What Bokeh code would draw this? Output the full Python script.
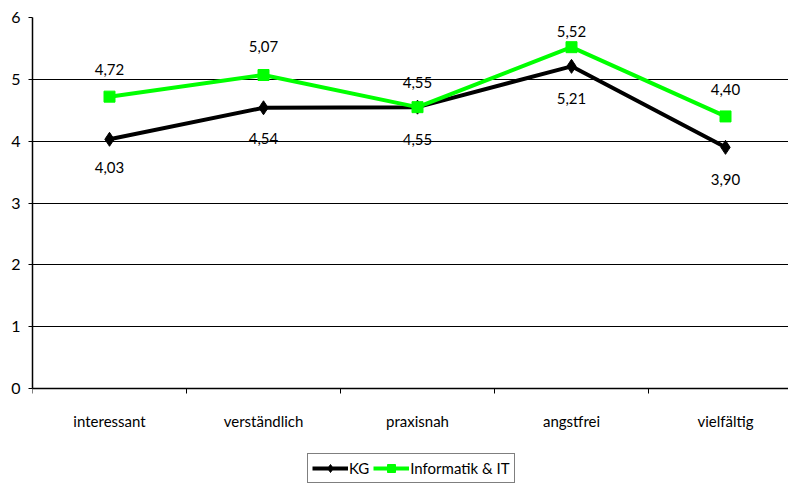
from bokeh.plotting import figure
from bokeh.models import Range1d, FixedTicker, Legend, LegendItem, ColumnDataSource, Span
from bokeh.core.properties import value
from bokeh.embed import file_html
from bokeh.resources import INLINE

categories = ["interessant", "verständlich", "praxisnah", "angstfrei", "vielfältig"]
kg = [4.03, 4.54, 4.55, 5.21, 3.90]
informatik_it = [4.72, 5.07, 4.55, 5.52, 4.40]
y_ticks = [0, 1, 2, 3, 4, 5, 6]
series_names = ["KG", "Informatik & IT"]

# vertical pixel offsets of the value labels (negative = above the point)
kg_label_dy = [28, 31, 32, 32, 32]
it_label_dy = [-27, -29, -25, -16, -27]

FONT = "Lato"
GREEN = "#00ff00"

# layout in pixels
W, H = 788, 484
LEFT, TOP = 32, 17
PLOT_H = 371          # height of the 0..6 value band
CAT_W = 154           # width of one category slot
px_per_unit = PLOT_H / y_ticks[-1]
y_bottom = -(H - TOP - PLOT_H) / px_per_unit   # room under the baseline for labels and legend

x_pos = [i + 0.5 for i in range(len(categories))]
boundaries = list(range(len(categories) + 1))


def fmt(v):
    return f"{v:.2f}".replace(".", ",")


kg_src = ColumnDataSource(dict(x=x_pos, y=kg, label=[fmt(v) for v in kg], dy=kg_label_dy))
it_src = ColumnDataSource(dict(x=x_pos, y=informatik_it, label=[fmt(v) for v in informatik_it], dy=it_label_dy))
cat_src = ColumnDataSource(dict(x=x_pos, y=[0] * len(categories), label=categories))

p = figure(width=W, height=H, output_backend="svg", toolbar_location=None,
           x_range=Range1d(0, (W - LEFT) / CAT_W), y_range=Range1d(y_bottom, y_ticks[-1]),
           x_axis_location=None,
           min_border_left=LEFT, min_border_right=0, min_border_top=TOP, min_border_bottom=0)
p.outline_line_color = None
p.background_fill_color = "white"
p.border_fill_color = "white"

# horizontal grid
p.xgrid.grid_line_color = None
p.ygrid.ticker = FixedTicker(ticks=y_ticks)
p.ygrid.grid_line_color = "black"
p.ygrid.grid_line_width = 1

# y axis, limited to the value band
p.yaxis.ticker = FixedTicker(ticks=y_ticks)
p.yaxis.bounds = (y_ticks[0], y_ticks[-1])
p.yaxis.axis_line_color = "black"
p.yaxis.axis_line_width = 1.5
p.yaxis.major_tick_out = 4
p.yaxis.major_tick_in = 0
p.yaxis.minor_tick_out = 0
p.yaxis.minor_tick_in = 0
p.yaxis.major_label_standoff = 8
p.yaxis.major_label_text_font = FONT
p.yaxis.major_label_text_font_size = "16px"
p.yaxis.major_label_text_color = "black"

# category baseline, separators and labels
p.add_layout(Span(location=0, dimension="width", line_color="black", line_width=1.5))
tick_len = 5 / px_per_unit
p.segment(x0=boundaries, y0=[0] * len(boundaries), x1=boundaries, y1=[-tick_len] * len(boundaries),
          line_color="black", line_width=1)
p.text("x", "y", text="label", source=cat_src, y_offset=32,
       text_align="center", text_baseline="middle",
       text_font=value(FONT), text_font_size="15px", text_color="black")

# series
kg_line = p.line("x", "y", source=kg_src, line_color="black", line_width=4)
kg_mark = p.scatter("x", "y", source=kg_src, marker="diamond", size=14,
                    fill_color="black", line_color="black")
it_line = p.line("x", "y", source=it_src, line_color=GREEN, line_width=4)
it_mark = p.scatter("x", "y", source=it_src, marker="square", size=11,
                    fill_color=GREEN, line_color=GREEN)

for src in (kg_src, it_src):
    p.text("x", "y", text="label", source=src, y_offset="dy",
           text_align="center", text_baseline="middle",
           text_font=value(FONT), text_font_size="15px", text_color="black")

legend = Legend(items=[LegendItem(label=series_names[0], renderers=[kg_line, kg_mark]),
                       LegendItem(label=series_names[1], renderers=[it_line, it_mark])],
                orientation="horizontal", location=(275, 1),
                glyph_width=36, glyph_height=20, label_standoff=1, spacing=4,
                padding=4, margin=0, border_line_color="black", border_line_width=1,
                label_text_font=FONT, label_text_font_size="15px",
                label_text_color="black", background_fill_color="white")
p.add_layout(legend, "center")

open("out.html", "w").write(file_html(p, INLINE))
